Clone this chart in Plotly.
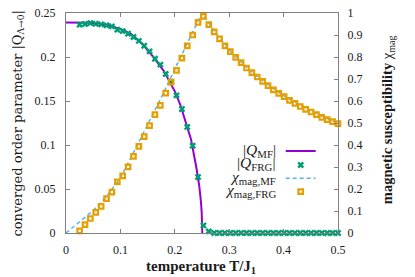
import plotly.graph_objects as go

# ---------------- data ----------------
T_mf = [0.0, 0.02, 0.04, 0.06, 0.08, 0.10, 0.12, 0.14, 0.16, 0.18, 0.20, 0.21,
        0.22, 0.23, 0.24, 0.245, 0.248, 0.2495, 0.2505]
Q_mf = [0.2393, 0.2393, 0.2390, 0.2380, 0.2355, 0.2320, 0.2260, 0.2150, 0.2005,
        0.1840, 0.1610, 0.1460, 0.1270, 0.1060, 0.0730, 0.0534, 0.0360, 0.0228, 0.0]

T_frg = [0.025, 0.0349, 0.0448, 0.0547, 0.0646, 0.0745, 0.0844, 0.0943, 0.1042,
         0.1141, 0.124, 0.1339, 0.1438, 0.1536, 0.1635, 0.1734, 0.1833, 0.1932,
         0.2031, 0.213, 0.2229, 0.2328, 0.2427, 0.2526, 0.2625, 0.2724, 0.2823,
         0.2922, 0.3021, 0.312, 0.3219, 0.3318, 0.3417, 0.3516, 0.3615, 0.3714,
         0.3813, 0.3911, 0.401, 0.4109, 0.4208, 0.4307, 0.4406, 0.4505, 0.4604,
         0.4703, 0.4802, 0.4901, 0.5]
Q_frg = [0.2367, 0.2375, 0.2386, 0.2378, 0.2371, 0.2360, 0.2348, 0.2310, 0.2295,
         0.2265, 0.2227, 0.2183, 0.2128, 0.2064, 0.1980, 0.1913, 0.1807, 0.1716,
         0.1564, 0.1409, 0.1205, 0.0992, 0.0636, 0.0086, 0.0018, 0.0, 0.0,
         0.0, 0.0, 0.0, 0.0, 0.0, 0.0, 0.0, 0.0, 0.0,
         0.0, 0.0, 0.0, 0.0, 0.0, 0.0, 0.0, 0.0, 0.0,
         0.0, 0.0, 0.0, 0.0]
chi_frg = [0.010, 0.038, 0.066, 0.094, 0.121, 0.156, 0.186, 0.232, 0.260,
           0.301, 0.348, 0.394, 0.438, 0.488, 0.538, 0.580, 0.636, 0.686,
           0.739, 0.795, 0.851, 0.900, 0.957, 0.985, 0.947, 0.914, 0.882,
           0.851, 0.824, 0.798, 0.774, 0.750, 0.729, 0.709, 0.689, 0.670,
           0.651, 0.635, 0.620, 0.603, 0.589, 0.575, 0.562, 0.550, 0.538,
           0.526, 0.515, 0.506, 0.497]

T_chi_mf = [0.0, 0.025, 0.05, 0.075, 0.1, 0.125, 0.15, 0.175, 0.2, 0.225, 0.25,
            0.275, 0.3, 0.325, 0.35, 0.375, 0.4, 0.425, 0.45, 0.475, 0.5]
chi_mf = [0.0, 0.050, 0.102, 0.168, 0.250, 0.370, 0.490, 0.615, 0.745, 0.875, 1.0,
          0.909, 0.833, 0.769, 0.714, 0.667, 0.625, 0.588, 0.556, 0.526, 0.5]

x_ticks = [0, 0.1, 0.2, 0.3, 0.4, 0.5]
x_ticktext = ["0", "0.1", "0.2", "0.3", "0.4", "0.5"]
y_ticks = [0, 0.05, 0.1, 0.15, 0.2, 0.25]
y_ticktext = ["0", "0.05", "0.1", "0.15", "0.2", "0.25"]
y2_ticks = [0, 0.1, 0.2, 0.3, 0.4, 0.5, 0.6, 0.7, 0.8, 0.9, 1.0]
y2_ticktext = ["0", "0.1", "0.2", "0.3", "0.4", "0.5", "0.6", "0.7", "0.8", "0.9", "1"]

legend_labels = ["|<i>Q</i><sub>MF</sub>|", "|<i>Q</i><sub>FRG</sub>|",
                 "<i>χ</i><sub>mag,MF</sub>", "<i>χ</i><sub>mag,FRG</sub>"]

# ---------------- styles ----------------
PURPLE = "#9400d3"
GREEN = "#009e73"
BLUE = "#56b4e9"
ORANGE = "#e69f00"
AXIS = "#808080"
TXT = "#1a1a1a"

W, H = 415, 277
ML, MR, MT, MB = 66, 77, 13, 44
PW, PH = W - ML - MR, H - MT - MB


def px_x(p):
    return (p - ML) / PW


def px_y(p):
    return (MT + PH - p) / PH


fig = go.Figure()
fig.add_trace(go.Scatter(x=T_mf, y=Q_mf, mode="lines", name="",
                         line=dict(color=PURPLE, width=2), legend="legend"))
fig.add_trace(go.Scatter(x=T_frg, y=Q_frg, mode="markers", name="",
                         marker=dict(symbol="x", size=6, color=GREEN, line=dict(width=0)),
                         cliponaxis=False, legend="legend2"))
fig.add_trace(go.Scatter(x=T_chi_mf, y=chi_mf, mode="lines", name="", yaxis="y2",
                         line=dict(color=BLUE, width=1.5, dash="4px,3px"), legend="legend3"))
fig.add_trace(go.Scatter(x=T_frg, y=chi_frg, mode="markers", name="", yaxis="y2",
                         marker=dict(symbol="square-open", size=4.5, color=ORANGE,
                                     line=dict(width=2.2, color=ORANGE)),
                         cliponaxis=False, legend="legend4"))

row_y = [150.0, 164.0, 177.3, 190.6]
leg_x = px_x(302.7 - 22)
for i, key in enumerate(["legend", "legend2", "legend3", "legend4"]):
    fig.update_layout({key: dict(x=leg_x, y=px_y(row_y[i] + 1), xanchor="left", yanchor="middle",
                                 bgcolor="rgba(0,0,0,0)", borderwidth=0, itemwidth=30,
                                 font=dict(size=10), tracegroupgap=0)})

annotations = []
for i, lab in enumerate(legend_labels):
    annotations.append(dict(text=lab, xref="paper", yref="paper", x=px_x(277.5), y=px_y(row_y[i]),
                            xanchor="right", yanchor="middle", showarrow=False,
                            font=dict(family="Liberation Serif", size=15.5, color=TXT)))

annotations.append(dict(text="<b>temperature T/J<sub>1</sub></b>", xref="paper", yref="paper",
                        x=px_x(200.5), y=px_y(266.5), xanchor="center", yanchor="middle",
                        showarrow=False, font=dict(family="Liberation Serif", size=15, color=TXT)))
annotations.append(dict(text="converged order parameter |Q<sub>Λ→0</sub>|", xref="paper", yref="paper",
                        x=px_x(17.5), y=px_y(124), xanchor="center", yanchor="middle", textangle=-90,
                        showarrow=False, font=dict(family="DejaVu Serif", size=13, color=TXT)))
annotations.append(dict(text="<b>magnetic susceptibility</b> χ<sub>mag</sub>", xref="paper", yref="paper",
                        x=px_x(387.7), y=px_y(119.5), xanchor="center", yanchor="middle", textangle=-90,
                        showarrow=False, font=dict(family="Liberation Serif", size=14.5, color=TXT)))

tickfont = dict(family="Liberation Serif", size=12, color=TXT)
fig.update_layout(
    width=W, height=H,
    margin=dict(l=ML, r=MR, t=MT, b=MB, pad=0, autoexpand=False),
    paper_bgcolor="white", plot_bgcolor="white",
    showlegend=True,
    annotations=annotations,
    xaxis=dict(range=[0, 0.5], tickvals=x_ticks, ticktext=x_ticktext, automargin=False,
               showline=True, linecolor=AXIS, linewidth=1, mirror="ticks",
               ticks="inside", ticklen=4, tickcolor=AXIS, showgrid=False, zeroline=False,
               tickfont=tickfont, ticklabelstandoff=6, ticklabeloverflow="allow"),
    yaxis=dict(range=[0, 0.25], tickvals=y_ticks, ticktext=y_ticktext, automargin=False,
               showline=True, linecolor=AXIS, linewidth=1, mirror=False,
               ticks="inside", ticklen=4, tickcolor=AXIS, showgrid=False, zeroline=False,
               tickfont=tickfont, ticklabelstandoff=7, ticklabeloverflow="allow"),
    yaxis2=dict(range=[0, 1], tickvals=y2_ticks, ticktext=y2_ticktext, overlaying="y", side="right",
                automargin=False,
                showline=True, linecolor=AXIS, linewidth=1,
                ticks="inside", ticklen=4, tickcolor=AXIS, showgrid=False, zeroline=False,
                tickfont=tickfont, ticklabelstandoff=6, ticklabeloverflow="allow"),
)

fig.write_html("out.html", config={"displayModeBar": False},
               post_script="document.body.style.margin='0px';")
